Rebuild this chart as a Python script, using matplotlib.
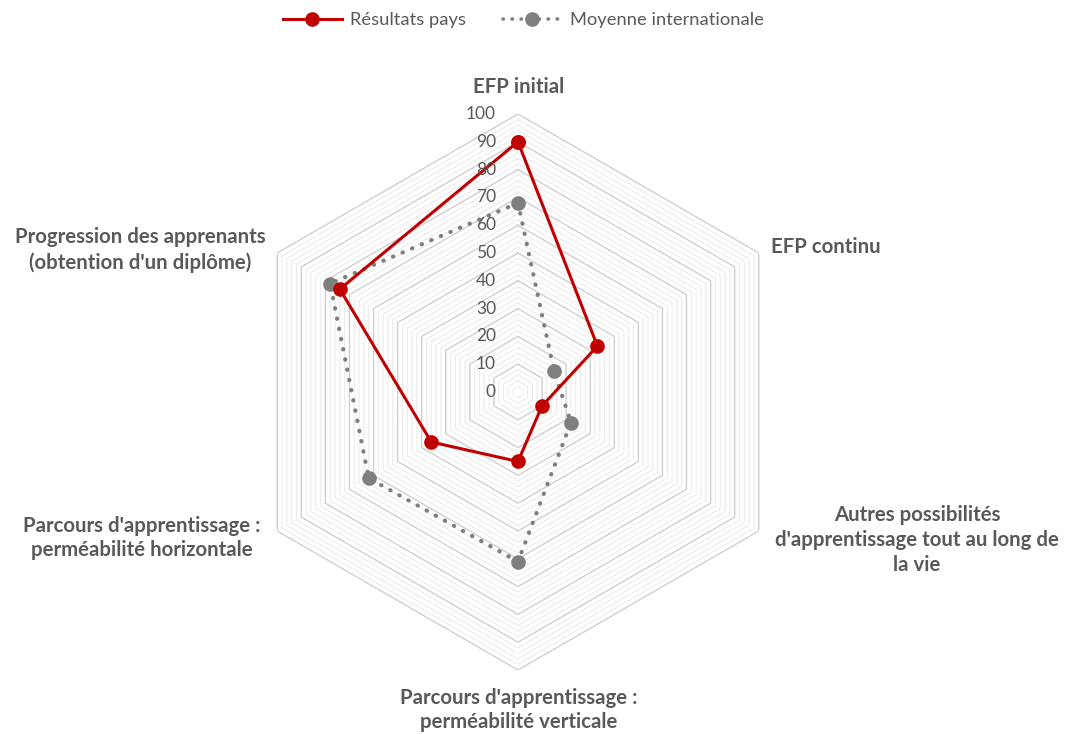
import numpy as np
import matplotlib.pyplot as plt
from matplotlib.lines import Line2D

plt.rcParams['font.family'] = ['Lato', 'DejaVu Sans']

# Données du radar
categories = ["EFP initial", "EFP continu",
              "Autres possibilités\nd'apprentissage tout au long de\nla vie",
              "Parcours d'apprentissage :\nperméabilité verticale",
              "Parcours d'apprentissage :\nperméabilité horizontale",
              "Progression des apprenants\n(obtention d'un diplôme)"]
resultats_pays = [90, 33, 10, 25, 36, 74]
moyenne_internationale = [68, 15, 22, 61, 62, 78]
ticks = list(range(0, 101, 10))
minor_ticks = list(range(0, 101, 2))

RED = '#c00000'
GREY = '#7f7f7f'
TXT = '#595959'
DOTS = (0, (0.1, 2.4))

W, H = 1068, 734
fig = plt.figure(figsize=(W / 100, H / 100), dpi=100)
ax = fig.add_axes([0.2247, 0.0872, 0.5206, 0.7575], projection='polar')
ax.set_theta_offset(np.pi / 2)
ax.set_theta_direction(-1)
ax.set_ylim(0, 100)
ax.grid(False)
ax.spines['polar'].set_visible(False)
ax.set_xticks([])
ax.set_yticks([])

n = len(categories)
angles = np.linspace(0, 2 * np.pi, n, endpoint=False)
ang_closed = np.append(angles, angles[0])

# grille hexagonale
for r in minor_ticks:
    major = r % 10 == 0
    ax.plot(ang_closed, [r] * (n + 1), color='#d0d0d0' if major else '#ececec',
            lw=1.0 if major else 0.8, zorder=1 if major else 0.5)

# étiquettes de l'axe
for t in ticks:
    x, y = ax.transData.transform((0, t))
    fig.text((x - 22) / W, y / H, str(t), ha='right', va='center',
             fontsize=12.5, color=TXT)

ax.plot(ang_closed, np.append(moyenne_internationale, moyenne_internationale[0]),
        color=GREY, lw=3.0, linestyle=DOTS, dash_capstyle='round', zorder=3)
ax.plot(angles, moyenne_internationale, 'o', color=GREY, ms=9.5, zorder=4)
ax.plot(ang_closed, np.append(resultats_pays, resultats_pays[0]),
        color=RED, lw=2.2, marker='o', ms=9.5, zorder=5)

# libellés des catégories (positions en pixels)
label_pos = [(519, 87, 'center'), (771, 247, 'left'), (917, 540, 'center'),
             (519, 710, 'center'), (142, 538, 'center'), (140, 250, 'center')]
for lab, (px, py, ha) in zip(categories, label_pos):
    fig.text(px / W, 1 - py / H, lab, ha=ha, va='center', multialignment='center',
             fontsize=14.7, fontweight='bold', color=TXT, linespacing=1.3)

handles = [Line2D([], [], color=RED, lw=2.2, marker='o', ms=9.5),
           Line2D([], [], color=GREY, lw=2.6, linestyle=DOTS,
                  dash_capstyle='round', marker='o', ms=9.5)]
fig.legend(handles, ['Résultats pays', 'Moyenne internationale'],
           loc='center', bbox_to_anchor=(0.49, 1 - 20 / H), ncol=2,
           frameon=False, fontsize=13.2, labelcolor=TXT, handlelength=3.2,
           handletextpad=0.45, columnspacing=2.0)

fig.savefig('out.png', dpi=100)
